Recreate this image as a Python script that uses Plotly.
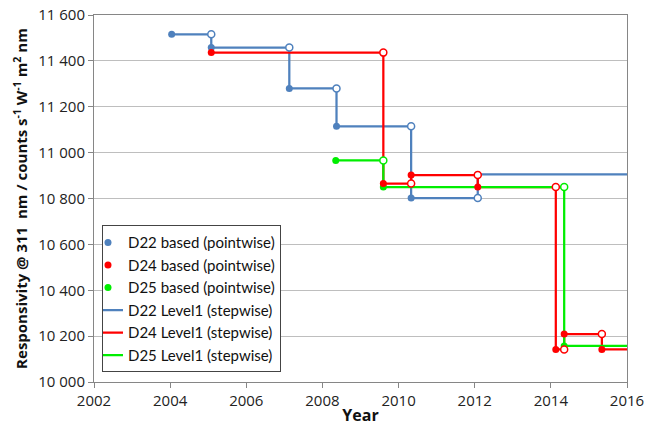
import plotly.graph_objects as go

# Segment start years and responsivity values (step functions)
d22_start = [2004.04, 2005.08, 2007.13, 2008.37, 2010.33, 2012.08]
d22_value = [11516, 11458, 11280, 11115, 10802, 10905]

d24_start = [2005.08, 2009.60, 2010.33, 2012.08, 2014.13, 2014.35, 2015.34]
d24_value = [11436, 10865, 10902, 10850, 10142, 10209, 10142]

d25_start = [2008.35, 2009.60, 2014.35]
d25_value = [10966, 10850, 10157]

x_end = 2016.0
x_ticks = [2002, 2004, 2006, 2008, 2010, 2012, 2014, 2016]
y_ticks = [10000, 10200, 10400, 10600, 10800, 11000, 11200, 11400, 11600]
y_ticklabels = ["10 000", "10 200", "10 400", "10 600", "10 800", "11 000", "11 200", "11 400", "11 600"]

series = [
    ("D22", d22_start, d22_value, "#4F81BD"),
    ("D24", d24_start, d24_value, "#FF0000"),
    ("D25", d25_start, d25_value, "#00EE00"),
]

fig = go.Figure()

def step_path(starts, values, end):
    xs, ys = [], []
    ends = starts[1:] + [end]
    for s, e, v in zip(starts, ends, values):
        xs += [s, e]
        ys += [v, v]
    return xs, ys

# lines
for i, (name, st, val, col) in enumerate(series):
    xs, ys = step_path(st, val, x_end)
    fig.add_trace(go.Scatter(x=xs, y=ys, mode="lines", name=f"{name} Level1 (stepwise)",
                             line=dict(color=col, width=2.25), legendrank=4 + i))

# markers (draw order blue, green, red)
for idx in [0, 2, 1]:
    name, st, val, col = series[idx]
    ends = st[1:]
    fig.add_trace(go.Scatter(x=ends, y=val[:-1], mode="markers", showlegend=False,
                             marker=dict(symbol="circle", size=7, color="white",
                                         line=dict(color=col, width=1.5))))
    fig.add_trace(go.Scatter(x=st, y=val, mode="markers", name=f"{name} based (pointwise)",
                             marker=dict(symbol="circle", size=7, color=col,
                                         line=dict(width=0)), legendrank=1 + idx))

FAM = "Open Sans, Liberation Sans, sans-serif"
LEG = "Lato, Open Sans, sans-serif"
axis_font = dict(family=FAM, size=15, color="#222222")

fig.update_layout(
    width=645, height=426,
    margin=dict(l=94, r=18, t=15, b=44),
    paper_bgcolor="white", plot_bgcolor="white",
    font=axis_font,
    showlegend=True,
    legend=dict(x=0.015, y=0.427, xanchor="left", yanchor="top",
                bgcolor="white", bordercolor="#444444", borderwidth=1,
                font=dict(family=LEG, size=15, color="#111111"),
                itemwidth=30, tracegroupgap=0, indentation=-15),
    xaxis=dict(range=[2002, 2016], tickvals=x_ticks, ticktext=[str(t) for t in x_ticks],
               showgrid=False, zeroline=False, showline=True, linecolor="#868686", linewidth=1,
               mirror=True, ticks="outside", ticklen=5, tickcolor="#868686", automargin=False,
               tickfont=dict(family=FAM, size=15, color="#222222"),
               title=dict(text="<b>Year</b>", font=dict(size=16, family=FAM, color="#111111"), standoff=0)),
    yaxis=dict(range=[10000, 11600], tickvals=y_ticks, ticktext=y_ticklabels,
               showgrid=True, gridcolor="#BEBEBE", gridwidth=1, zeroline=False,
               showline=True, linecolor="#868686", linewidth=1, mirror=True,
               ticks="outside", ticklen=5, tickcolor="#868686", automargin=False,
               tickfont=dict(family=FAM, size=15, color="#222222"),
               title=dict(text="<b>Responsivity @ 311  nm / counts s<sup>-1</sup> W<sup>-1</sup> m<sup>2</sup> nm</b>",
                          font=dict(size=15, family=FAM, color="#111111"), standoff=6)),
)

fig.write_html("out.html", config={"displayModeBar": False})

# remove default page margin so the figure sits at the window origin
with open("out.html", "r", encoding="utf-8") as f:
    html = f.read()
html = html.replace("<head>", "<head><style>html,body{margin:0;padding:0;overflow:hidden;}</style>", 1)
with open("out.html", "w", encoding="utf-8") as f:
    f.write(html)
